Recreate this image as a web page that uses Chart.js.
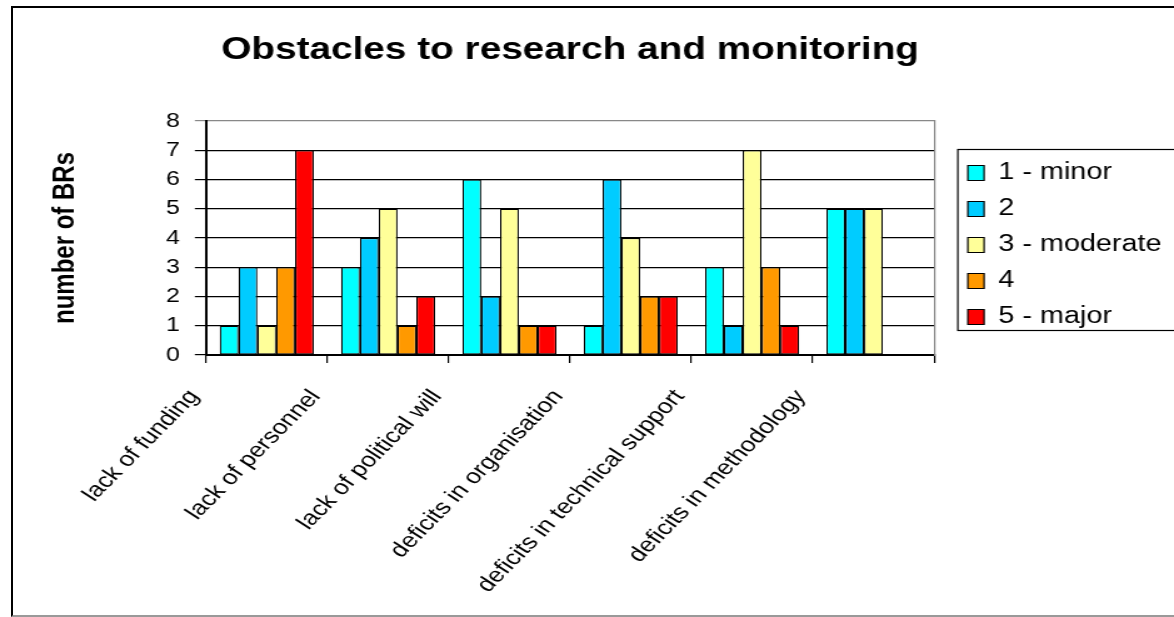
<!DOCTYPE html>
<html>
<head>
<meta charset="utf-8">
<title>Obstacles to research and monitoring</title>
<script src="https://cdn.jsdelivr.net/npm/chart.js@4"></script>
<style>
  html, body { margin: 0; padding: 0; background: #fff; overflow: hidden; }
  #wrap { position: relative; width: 1174px; height: 617px; overflow: hidden; }
  #chart { position: absolute; left: 0; top: 0; }
  /* outer chart frame, it runs off the right edge in the original */
  #frame {
    position: absolute; left: 11px; top: 6px; width: 1200px; height: 607px;
    border-top: 2px solid #000; border-left: 2px solid #000; border-bottom: 2px solid #999;
    pointer-events: none;
  }
</style>
</head>
<body>
<div id="wrap">
  <!-- drawn narrower and stretched to 1174px, like the original picture -->
  <canvas id="chart" width="939" height="617" style="width:1174px;height:617px"></canvas>
  <div id="frame"></div>
</div>
<script>
const categories = [
  "lack of funding",
  "lack of personnel",
  "lack of political will",
  "deficits in organisation",
  "deficits in technical support",
  "deficits in methodology",
];
const seriesNames = ["1 - minor", "2", "3 - moderate", "4", "5 - major"];
const minor = [1, 3, 6, 1, 3, 5];
const level2 = [3, 4, 2, 6, 1, 5];
const moderate = [1, 5, 5, 4, 7, 5];
const level4 = [3, 1, 1, 2, 3, 0];
const major = [7, 2, 1, 2, 1, 0];
const yTicks = [0, 1, 2, 3, 4, 5, 6, 7, 8];

const colors = ["#00FFFF", "#00CCFF", "#FFFF99", "#FF9900", "#FF0000"];
const values = [minor, level2, moderate, level4, major];

Chart.defaults.font.family = 'Arial, "Liberation Sans", sans-serif';
Chart.defaults.color = "#000";

// legend sits level with the plot, and gets a box round it
const legendFrame = {
  id: "legendFrame",
  beforeDraw(chart) {
    const lg = chart.legend;
    const area = chart.chartArea;
    lg.top = area.top + 7;
    lg.bottom = area.bottom + 7;
    lg.height = area.height;
  },
  afterDraw(chart) {
    const lg = chart.legend;
    if (!lg || !lg.columnSizes || !lg.columnSizes.length) return;
    const pad = lg.options.labels.padding;
    const colH = lg.columnSizes[0].height;
    const y0 = (lg.top + pad + lg.bottom - colH) / 2;
    const top = y0 - 12;
    const bottom = y0 + colH - pad + 2;
    const ctx = chart.ctx;
    ctx.save();
    ctx.strokeStyle = "#000";
    ctx.lineWidth = 1.2;
    ctx.strokeRect(lg.left + 5, top, lg.width + 20, bottom - top);
    ctx.restore();
  },
};

const datasets = seriesNames.map((name, i) => ({
  label: name,
  data: values[i],
  backgroundColor: colors[i],
  borderColor: "#000",
  borderWidth: 1.2,
  borderSkipped: false,
  categoryPercentage: 0.775,
  barPercentage: 1,
}));

const ctx = document.getElementById("chart").getContext("2d");
new Chart(ctx, {
  type: "bar",
  data: {
    labels: categories,
    datasets: datasets,
  },
  options: {
    responsive: false,
    animation: false,
    devicePixelRatio: 1,
    layout: {
      padding: { left: 10, right: 0, top: 0, bottom: 0 },
    },
    plugins: {
      title: {
        display: true,
        text: "Obstacles to research and monitoring",
        fullSize: false,
        font: { size: 31, weight: "bold" },
        color: "#000",
        padding: { top: 32, bottom: 51.8 },
      },
      legend: {
        position: "right",
        fullSize: false,
        maxWidth: 200,
        labels: {
          boxWidth: 13,
          boxHeight: 15,
          padding: 13,
          font: { size: 23 },
          color: "#000",
        },
      },
      tooltip: { enabled: false },
    },
    scales: {
      x: {
        afterFit: (scale) => {
          scale.height = 262;
        },
        grid: {
          display: true,
          drawOnChartArea: false,
          drawTicks: true,
          tickLength: 8,
          color: "#000",
          lineWidth: 1.2,
        },
        border: { color: "#000", width: 2 },
        ticks: {
          font: { size: 21 },
          color: "#000",
          minRotation: 51.3,
          maxRotation: 51.3,
          autoSkip: false,
          padding: 22,
          labelOffset: -58,
        },
      },
      y: {
        min: yTicks[0],
        max: yTicks[yTicks.length - 1],
        afterBuildTicks: (scale) => {
          scale.ticks = yTicks.map((v) => ({ value: v }));
        },
        grid: {
          color: (c) => (c.tick && c.tick.value === 8 ? "#888" : "#000"),
          lineWidth: 1.2,
          tickLength: 9,
        },
        border: { color: "#000", width: 2 },
        ticks: {
          font: { size: 20 },
          color: "#000",
          padding: 12,
          autoSkip: false,
        },
        title: {
          display: true,
          text: "number of BRs",
          font: { size: 24, weight: "bold" },
          color: "#000",
          padding: { top: 28, bottom: 65 },
        },
      },
      y2: {
        position: "right",
        afterFit: (scale) => {
          scale.width = 14;
        },
        grid: { display: false },
        ticks: { display: false },
        border: { color: "#888", width: 1.2 },
      },
    },
  },
  plugins: [legendFrame],
});
</script>
</body>
</html>
